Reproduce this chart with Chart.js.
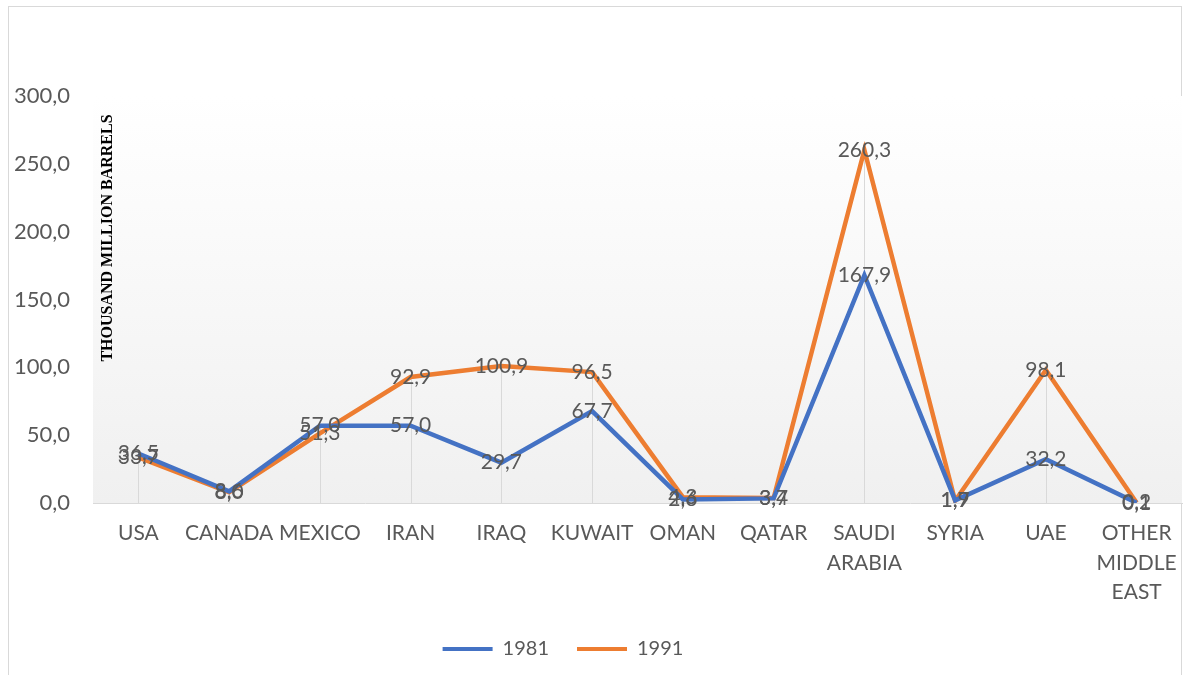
<!DOCTYPE html>
<html lang="en">
<head>
<meta charset="UTF-8">
<title>Oil reserves 1981 vs 1991</title>
<script src="https://cdn.jsdelivr.net/npm/chart.js"></script>
<style>
html,body{margin:0;padding:0;background:#fff;}
#wrap{width:1198px;height:675px;position:relative;}
</style>
</head>
<body>
<div id="wrap"><canvas id="chart" width="1198" height="675"></canvas></div>
<script>
// categories and values (thousand million barrels)
const countries = ["USA", "CANADA", "MEXICO", "IRAN", "IRAQ", "KUWAIT", "OMAN", "QATAR", ["SAUDI", "ARABIA"], "SYRIA", "UAE", ["OTHER", "MIDDLE", "EAST"]];
const reserves1981 = [36.5, 8.6, 57.0, 57.0, 29.7, 67.7, 2.6, 3.4, 167.9, 1.9, 32.2, 0.1];
const reserves1991 = [33.7, 8.0, 51.3, 92.9, 100.9, 96.5, 4.3, 3.7, 260.3, 1.7, 98.1, 0.2];
const yTicks = [0, 50, 100, 150, 200, 250, 300];

const grey = "#595959";
const fam = "Lato, 'Open Sans', sans-serif";
const fmt = v => v.toFixed(1).replace(".", ",");

// frame, plot background gradient, drop lines, value labels
const decor = {
  id: "decor",
  afterLayout(chart) {
    // legend sits a bit left of centre in the original
    chart.legend.left -= 28;
    chart.legend.right -= 28;
  },
  beforeDraw(chart) {
    const {ctx, chartArea: a} = chart;
    ctx.save();
    ctx.fillStyle = "#fff";
    ctx.fillRect(0, 0, chart.width, chart.height);
    ctx.strokeStyle = "#d9d9d9";
    ctx.lineWidth = 1;
    ctx.strokeRect(8.5, 6.5, 1173, 700);
    const g = ctx.createLinearGradient(0, a.top, 0, a.bottom);
    g.addColorStop(0, "#ffffff");
    g.addColorStop(1, "#f0f0f0");
    ctx.fillStyle = g;
    ctx.fillRect(a.left, a.top, a.right - a.left, a.bottom - a.top);
    ctx.restore();
  },
  beforeDatasetsDraw(chart) {
    const {ctx} = chart;
    const x = chart.scales.x, y = chart.scales.y;
    ctx.save();
    ctx.strokeStyle = "#d9d9d9";
    ctx.lineWidth = 1;
    countries.forEach((c, i) => {
      const top = Math.max(reserves1981[i], reserves1991[i]);
      const px = Math.round(x.getPixelForValue(i)) + 0.5;
      ctx.beginPath();
      ctx.moveTo(px, y.getPixelForValue(0));
      ctx.lineTo(px, y.getPixelForValue(top));
      ctx.stroke();
    });
    // axis title sits inside the plot, like the original
    ctx.fillStyle = "#000";
    ctx.font = "bold 16px 'Liberation Serif', 'Times New Roman', serif";
    ctx.textAlign = "center";
    ctx.textBaseline = "middle";
    ctx.translate(108, 238);
    ctx.rotate(-Math.PI / 2);
    ctx.fillText("THOUSAND MILLION BARRELS", 0, 0);
    ctx.restore();
  },
  afterDatasetsDraw(chart) {
    const {ctx} = chart;
    ctx.save();
    ctx.font = "21px " + fam;
    ctx.fillStyle = grey;
    ctx.textAlign = "center";
    ctx.textBaseline = "middle";
    chart.data.datasets.forEach((ds, di) => {
      chart.getDatasetMeta(di).data.forEach((pt, i) => {
        ctx.fillText(fmt(ds.data[i]), pt.x, pt.y);
      });
    });
    ctx.restore();
  }
};

new Chart(document.getElementById("chart"), {
  type: "line",
  data: {
    labels: countries,
    datasets: [
      {label: "1981", data: reserves1981, borderColor: "#4472c4", backgroundColor: "#4472c4", borderWidth: 4.5, pointRadius: 0, tension: 0},
      {label: "1991", data: reserves1991, borderColor: "#ed7d31", backgroundColor: "#ed7d31", borderWidth: 4.5, pointRadius: 0, tension: 0}
    ]
  },
  options: {
    responsive: false,
    animation: false,
    layout: {padding: {top: 96, right: 16, left: 0, bottom: 6}},
    plugins: {
      legend: {
        position: "bottom",
        labels: {
          color: grey,
          font: {size: 20, family: fam},
          boxWidth: 50, boxHeight: 4, padding: 28,
          generateLabels(chart) {
            return chart.data.datasets.map((ds, i) => ({
              text: ds.label, fillStyle: ds.borderColor, strokeStyle: ds.borderColor,
              lineWidth: 0, datasetIndex: i, fontColor: grey
            }));
          }
        }
      },
      tooltip: {enabled: false}
    },
    scales: {
      x: {
        offset: true,
        afterFit(scale) { scale.height = 108; },
        grid: {display: false, drawTicks: false},
        border: {display: true, color: "#d9d9d9", width: 1},
        ticks: {
          color: grey, autoSkip: false, maxRotation: 0, padding: 16,
          font: {size: 21, family: fam, lineHeight: 1.4}
        }
      },
      y: {
        min: 0, max: 300,
        afterBuildTicks(scale) { scale.ticks = yTicks.map(v => ({value: v})); },
        afterFit(scale) { scale.width = 93; },
        grid: {display: false, drawTicks: false},
        border: {display: false},
        ticks: {
          color: grey, padding: 23,
          font: {size: 22, family: fam},
          callback: v => fmt(v)
        }
      }
    }
  },
  plugins: [decor]
});
</script>
</body>
</html>
